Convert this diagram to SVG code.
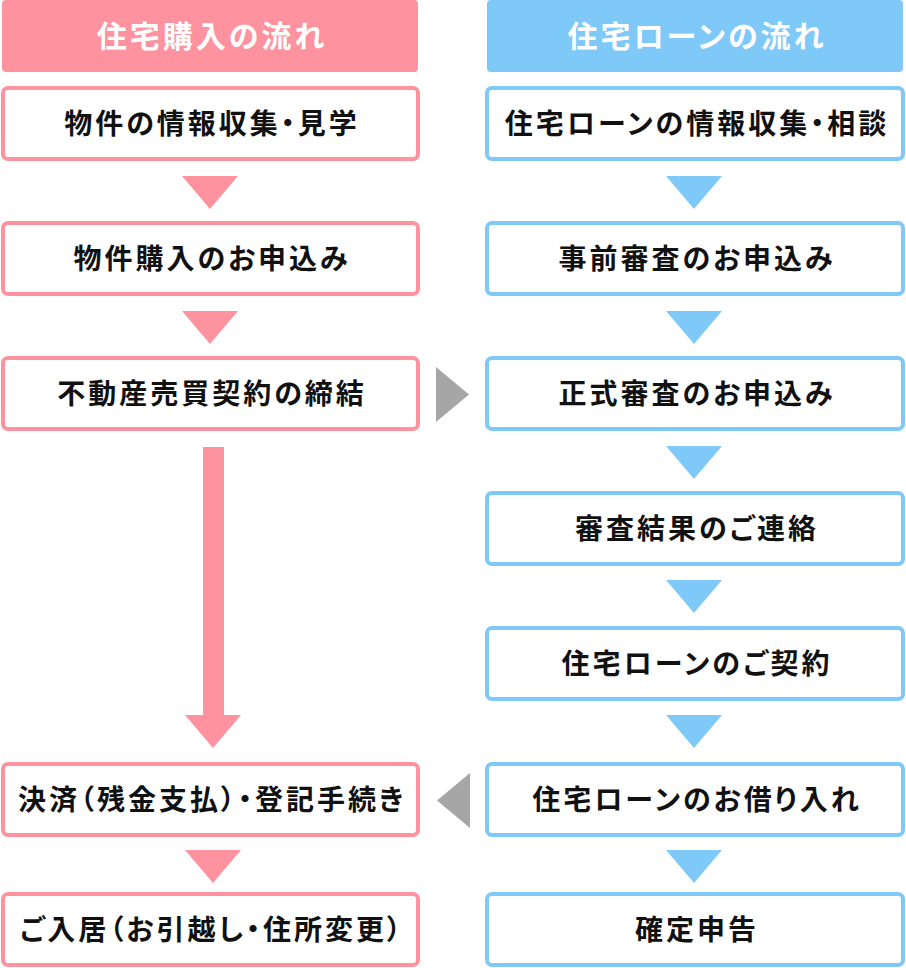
<svg xmlns="http://www.w3.org/2000/svg" width="906" height="968" viewBox="0 0 906 968">
<style>
.hp{fill:#fe939f}
.hb{fill:#7fc9f9}
.bp{fill:#fff;stroke:#fe939f;stroke-width:4}
.bb{fill:#fff;stroke:#7fc9f9;stroke-width:4}
.ht{font-family:"Noto Sans CJK JP","Noto Sans CJK SC",sans-serif;font-size:30px;font-weight:700;fill:#fff;text-anchor:middle;letter-spacing:3px;font-feature-settings:"palt"}
.t{font-family:"Noto Sans CJK JP","Noto Sans CJK SC",sans-serif;font-size:28px;font-weight:700;fill:#111;text-anchor:middle;letter-spacing:3px;font-feature-settings:"palt"}
.ap{fill:#fe939f}
.ab{fill:#7fc9f9}
.ag{fill:#a6a6a6}
</style>
<g id="header-left"><rect class="hp" x="2" y="0" width="416" height="72" rx="4"/><text class="ht" x="212" y="47">住宅購入の流れ</text></g>
<g id="header-right"><rect class="hb" x="487" y="0" width="416" height="72" rx="4"/><text class="ht" x="697" y="47">住宅ローンの流れ</text></g>

<g id="L1"><rect class="bp" x="3" y="88" width="415" height="71" rx="5"/><text class="t" x="212" y="134">物件の情報収集・見学</text></g>
<g id="L2"><rect class="bp" x="3" y="223" width="415" height="71" rx="5"/><text class="t" x="212" y="269">物件購入のお申込み</text></g>
<g id="L3"><rect class="bp" x="3" y="358" width="415" height="71" rx="5"/><text class="t" x="212" y="404">不動産売買契約の締結</text></g>
<g id="L4"><rect class="bp" x="3" y="764" width="415" height="71" rx="5"/><text class="t" x="212" y="810">決済（残金支払）・登記手続き</text></g>
<g id="L5"><rect class="bp" x="3" y="894" width="415" height="71" rx="5"/><text class="t" x="212" y="940">ご入居（お引越し・住所変更）</text></g>

<g id="R1"><rect class="bb" x="487" y="88" width="416" height="71" rx="5"/><text class="t" x="697" y="134">住宅ローンの情報収集・相談</text></g>
<g id="R2"><rect class="bb" x="487" y="223" width="416" height="71" rx="5"/><text class="t" x="697" y="269">事前審査のお申込み</text></g>
<g id="R3"><rect class="bb" x="487" y="358" width="416" height="71" rx="5"/><text class="t" x="697" y="404">正式審査のお申込み</text></g>
<g id="R4"><rect class="bb" x="487" y="493" width="416" height="71" rx="5"/><text class="t" x="697" y="539">審査結果のご連絡</text></g>
<g id="R5"><rect class="bb" x="487" y="628" width="416" height="71" rx="5"/><text class="t" x="697" y="674">住宅ローンのご契約</text></g>
<g id="R6"><rect class="bb" x="487" y="764" width="416" height="71" rx="5"/><text class="t" x="697" y="810">住宅ローンのお借り入れ</text></g>
<g id="R7"><rect class="bb" x="487" y="894" width="416" height="71" rx="5"/><text class="t" x="697" y="940">確定申告</text></g>

<g id="connectors">
<polygon class="ap" points="182,176 238,176 210,209"/>
<polygon class="ap" points="182,311 238,311 210,344"/>
<polygon class="ap" points="203,447 224,447 224,715 241,715 213,748 185,715 203,715"/>
<polygon class="ap" points="185,850 241,850 213,883"/>
<polygon class="ab" points="666,176 722,176 694,209"/>
<polygon class="ab" points="666,311 722,311 694,344"/>
<polygon class="ab" points="666,446 722,446 694,479"/>
<polygon class="ab" points="666,580 722,580 694,613"/>
<polygon class="ab" points="666,715 722,715 694,748"/>
<polygon class="ab" points="666,850 722,850 694,883"/>
<polygon class="ag" points="436,367 436,422 469,394.5"/>
<polygon class="ag" points="470,773 470,828 437,800.5"/>
</g>
</svg>
